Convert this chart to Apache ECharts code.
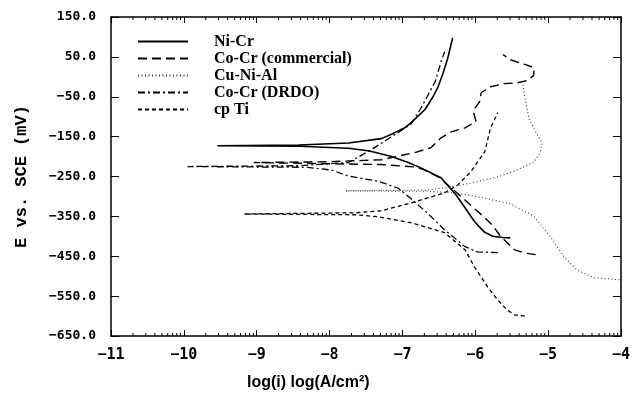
<!DOCTYPE html>
<html><head><meta charset="utf-8">
<script src="https://cdn.jsdelivr.net/npm/echarts@6/dist/echarts.min.js"></script>
<style>html,body{margin:0;padding:0;background:#fff}#c{width:633px;height:396px}</style>
</head><body><div id="c"></div>
<script>
// ---- data (log i in log(A/cm^2), E in mV vs SCE) ----
const seriesNames = ['Ni-Cr', 'Co-Cr (commercial)', 'Cu-Ni-Al', 'Co-Cr (DRDO)', 'cp Ti'];
const xTicks = [-11, -10, -9, -8, -7, -6, -5, -4];
const yTicks = [150, 50, -50, -150, -250, -350, -450, -550, -650];
const xTitle = 'log(i) log(A/cm\u00B2)';
const yTitle = 'E vs. SCE (mV)';

const niCr = [[-5.52,-404],[-5.62,-403],[-5.76,-400],[-5.87,-390],[-5.95,-375],[-6.01,-363],[-6.26,-297],[-6.47,-253],[-6.74,-229],[-6.92,-215],[-7.15,-200],[-7.45,-186],[-7.74,-179],[-8.42,-174],[-9.54,-173],
  [-8.42,-171],[-7.74,-166],[-7.29,-155],[-7.15,-144],[-6.96,-127],[-6.88,-115],[-6.69,-82],[-6.58,-50],[-6.51,-25],[-6.44,10],[-6.38,45],[-6.31,98]];
const coCrCom = [[-5.17,-446],[-5.32,-442],[-5.46,-434],[-5.55,-418],[-5.65,-401],[-5.76,-373],[-5.92,-345],[-6.10,-316],[-6.30,-283],[-6.51,-251],[-6.70,-233],[-6.83,-226],[-7.29,-220],[-8.01,-218],[-9.04,-215],
  [-8.01,-213],[-7.29,-208],[-6.83,-190],[-6.61,-178],[-6.47,-153],[-6.33,-138],[-6.14,-128],[-5.99,-112],[-6.03,-85],[-5.94,-62],[-5.92,-40],[-5.79,-25],[-5.60,-17],[-5.42,-15],[-5.28,-9],[-5.20,3],[-5.19,23],[-5.32,31],[-5.52,43],[-5.62,56]];
const cuNiAl = [[-4.02,-509],[-4.37,-504],[-4.60,-485],[-4.78,-452],[-4.97,-401],[-5.19,-351],[-5.28,-341],[-5.42,-329],[-5.52,-318],[-5.97,-301],[-6.24,-292],[-6.65,-287],[-7.78,-286],
  [-6.65,-284],[-6.24,-273],[-5.97,-263],[-5.69,-251],[-5.42,-233],[-5.19,-213],[-5.11,-190],[-5.08,-165],[-5.15,-145],[-5.26,-107],[-5.32,-50],[-5.35,-12]];
const coCrDrdo = [[-5.69,-441],[-5.83,-440],[-5.97,-439],[-6.14,-426],[-6.42,-384],[-6.65,-343],[-6.88,-306],[-7.06,-279],[-7.33,-262],[-7.74,-249],[-7.97,-234],[-8.30,-227],[-9.95,-225],
  [-8.42,-223],[-7.74,-215],[-7.43,-183],[-7.06,-140],[-6.88,-118],[-6.74,-77],[-6.55,-12],[-6.47,38],[-6.42,63]];
const cpTi = [[-5.32,-600],[-5.46,-597],[-5.56,-585],[-5.69,-560],[-5.83,-527],[-6.01,-477],[-6.14,-434],[-6.42,-391],[-6.88,-366],[-7.33,-351],[-7.64,-346],[-9.17,-344],
  [-7.64,-341],[-7.29,-336],[-6.88,-316],[-6.42,-291],[-6.24,-271],[-6.06,-238],[-5.87,-188],[-5.79,-128],[-5.69,-90]];

const seriesData = [niCr, coCrCom, cuNiAl, coCrDrdo, cpTi];
const seriesLine = [
  {type:'solid', width:1.6, color:'#000'},
  {type:[9,5], width:1.4, color:'#000'},
  {type:[1,2.5], width:1.1, color:'#333'},
  {type:[7,3,2,3], width:1.3, color:'#000'},
  {type:[4,3], width:1.3, color:'#000'}
];

// log-style minor tick positions (axis decoration)
const xMin = xTicks[0], xMax = xTicks[xTicks.length-1];
const yMax = yTicks[0], yMin = yTicks[yTicks.length-1];
const minorTicks = [];
for (let d = xMin; d < xMax; d++) for (let k = 2; k <= 9; k++) minorTicks.push([d + Math.log10(k), yMin]);

const minus = s => String(s).replace('-', '\u2212');
const axisLineStyle = {show:true, onZero:false, lineStyle:{color:'#000', width:1.5}};

const chart = echarts.init(document.getElementById('c'), null, {renderer:'canvas'});
chart.setOption({
  animation:false,
  backgroundColor:'#fff',
  title:{text:xTitle, left:242, top:370, textStyle:{fontFamily:'Liberation Sans', fontWeight:'bold', fontSize:16, color:'#000'}},
  grid:{left:111, right:9, top:17, bottom:60},
  legend:{
    orient:'vertical', left:132, top:28, itemWidth:50, itemHeight:10, itemGap:0,
    data:seriesNames,
    itemStyle:{color:'rgba(0,0,0,0)', borderWidth:0, opacity:0},
    textStyle:{fontFamily:'Liberation Serif', fontWeight:'bold', fontSize:16, color:'#000', lineHeight:17, padding:[0,0,0,21]}
  },
  xAxis:[
    {type:'value', min:xMin, max:xMax, interval:1, position:'bottom', axisLine:axisLineStyle,
     axisTick:{inside:true, length:6, lineStyle:{color:'#000'}}, splitLine:{show:false},
     axisLabel:{margin:12, formatter:v=>minus(v), fontFamily:'DejaVu Sans Mono', fontWeight:'bold', fontSize:15, color:'#000'}},
    {type:'value', min:xMin, max:xMax, interval:1, position:'top', axisLine:axisLineStyle,
     axisTick:{inside:true, length:6, lineStyle:{color:'#000'}}, splitLine:{show:false}, axisLabel:{show:false}}
  ],
  yAxis:[
    {type:'value', min:yMin, max:yMax, interval:100, position:'left', axisLine:axisLineStyle,
     axisTick:{inside:true, length:8, lineStyle:{color:'#000'}}, splitLine:{show:false},
     axisLabel:{margin:15, formatter:v=>minus(v.toFixed(1)), fontFamily:'DejaVu Sans Mono', fontWeight:'bold', fontSize:13, color:'#000'},
     name:yTitle, nameLocation:'middle', nameRotate:90, nameGap:81,
     nameTextStyle:{fontFamily:'Liberation Mono', fontWeight:'bold', fontSize:17, color:'#000'}},
    {type:'value', min:yMin, max:yMax, interval:100, position:'right', axisLine:axisLineStyle,
     axisTick:{inside:true, length:8, lineStyle:{color:'#000'}}, splitLine:{show:false}, axisLabel:{show:false}}
  ],
  series: seriesNames.map((n,i)=>({
    name:n, type:'line', data:seriesData[i], symbol:'none', showSymbol:false,
    lineStyle:seriesLine[i], itemStyle:{color:seriesLine[i].color}, silent:true
  })).concat([{
    type:'custom', silent:true, data:minorTicks, clip:false, z:5,
    renderItem:(params, api)=>{
      const x = api.value(0);
      const b = api.coord([x, yMin]);
      const t = api.coord([x, yMax]);
      return {type:'group', children:[
        {type:'line', shape:{x1:b[0], y1:b[1], x2:b[0], y2:b[1]-3}, style:{stroke:'#000', lineWidth:1}},
        {type:'line', shape:{x1:t[0], y1:t[1], x2:t[0], y2:t[1]+3}, style:{stroke:'#000', lineWidth:1}}
      ]};
    }
  }])
});
</script>
</body></html>
